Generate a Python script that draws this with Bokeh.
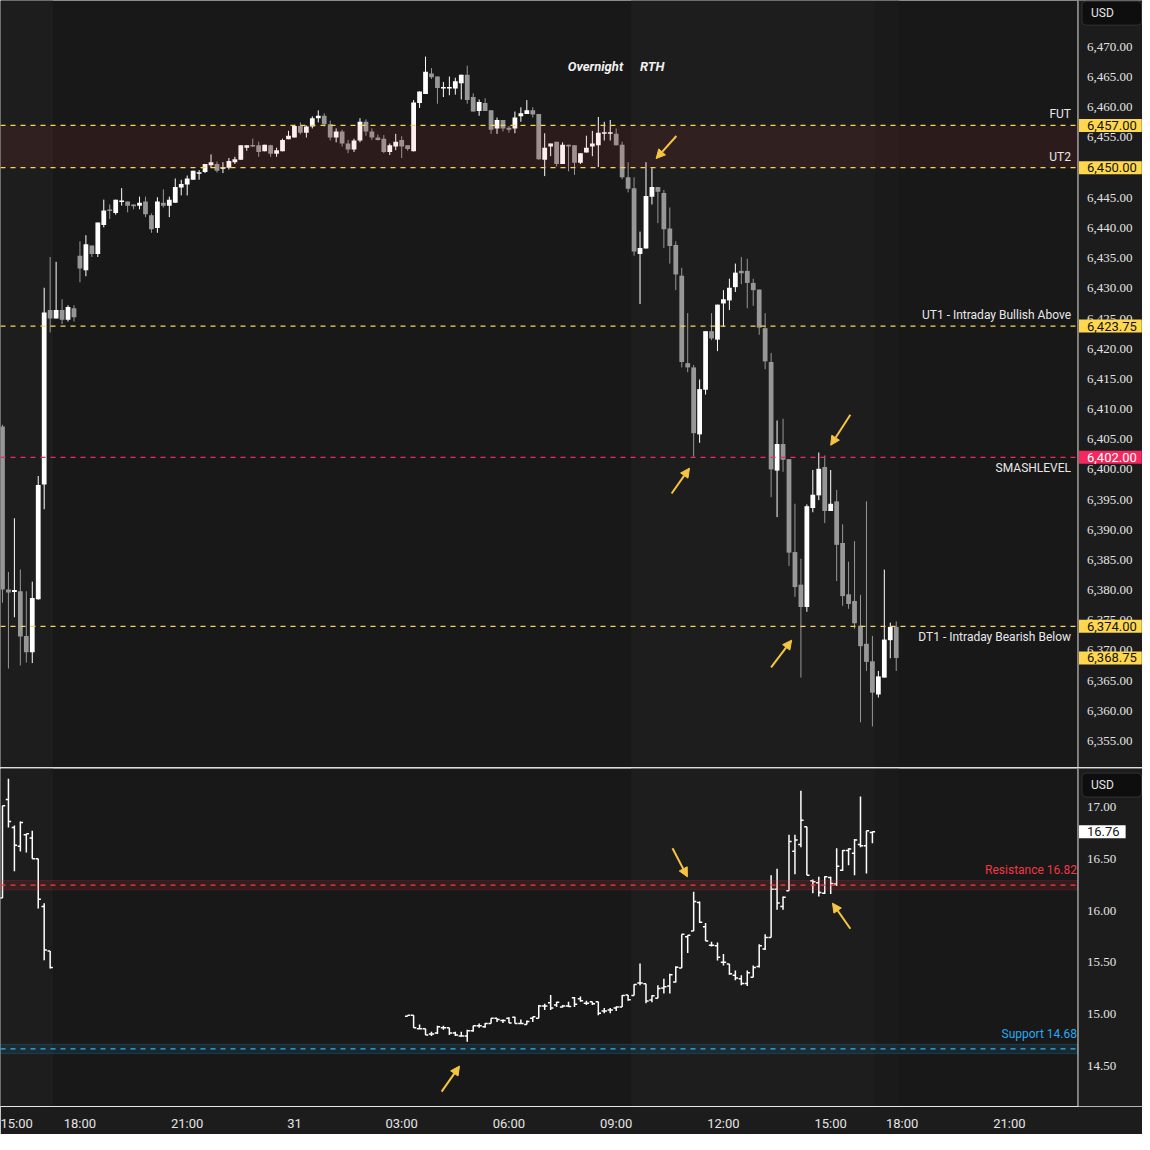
from bokeh.plotting import figure
from bokeh.models import (ColumnDataSource, Range1d, BoxAnnotation, Span, Label, LabelSet, Arrow,
                          NormalHead, FixedTicker, Div)
from bokeh.layouts import column
from bokeh.embed import file_html
from bokeh.resources import INLINE

FONT = "Roboto"

# ---------------- data: ES 10-minute candles (bar index 0 = 15:00 on day 1) ----------------
es_index = list(range(-1, 150))
es_open = [6407.1,
    6380.1, 6379.7, 6379.8, 6372.4, 6369.7, 6378.5, 6397.5, 6426.4, 6425.0, 6426.4,
    6424.8, 6426.7, 6435.4, 6433.0, 6437.1, 6435.7, 6440.5, 6443.0, 6442.5, 6444.3,
    6444.4, 6443.9, 6443.7, 6444.4, 6442.1, 6440.0, 6444.2, 6443.7, 6444.2, 6446.7,
    6447.2, 6448.0, 6449.0, 6449.3, 6450.4, 6450.6, 6449.8, 6450.0, 6450.9, 6451.3,
    6453.3, 6453.7, 6453.7, 6452.7, 6453.7, 6452.3, 6452.7, 6454.7, 6455.0, 6456.9,
    6455.8, 6456.8, 6458.2, 6458.6, 6457.2, 6455.0, 6456.0, 6454.0, 6453.0, 6454.5,
    6457.6, 6456.0, 6455.0, 6454.8, 6452.6, 6453.5, 6454.6, 6453.7, 6452.7, 6460.7,
    6462.2, 6465.6, 6465.1, 6463.1, 6463.1, 6463.1, 6464.0, 6465.4, 6461.7, 6459.4,
    6460.7, 6459.5, 6456.5, 6457.9, 6456.6, 6456.5, 6458.5, 6458.9, 6459.5, 6458.9,
    6451.3, 6453.5, 6454.3, 6450.6, 6453.8, 6453.7, 6450.8, 6452.5, 6453.5, 6453.7,
    6455.6, 6455.6, 6455.6, 6453.8, 6448.4, 6446.6, 6435.7, 6436.6, 6445.2, 6446.8,
    6445.8, 6439.9, 6437.2, 6432.1, 6417.6, 6416.9, 6405.8, 6413.2, 6422.9, 6421.5,
    6427.5, 6428.0, 6430.2, 6432.9, 6432.9, 6430.9, 6429.8, 6423.4, 6417.8, 6399.8,
    6404.2, 6401.7, 6386.3, 6380.9, 6377.2, 6393.6, 6395.7, 6400.4, 6393.1, 6394.7,
    6387.8, 6379.3, 6378.2, 6374.1, 6371.1, 6368.2, 6362.7, 6365.5, 6371.7, 6373.9]
es_high = [6407.4,
    6383.0, 6391.9, 6383.4, 6379.8, 6381.4, 6398.9, 6430.1, 6435.2, 6434.4, 6428.2,
    6427.2, 6427.2, 6437.8, 6438.8, 6437.1, 6440.9, 6444.7, 6443.9, 6444.7, 6446.6,
    6444.4, 6443.9, 6445.2, 6445.2, 6442.4, 6445.1, 6446.4, 6445.2, 6448.2, 6448.0,
    6448.7, 6449.5, 6449.6, 6450.6, 6452.2, 6451.0, 6450.9, 6451.6, 6451.8, 6453.7,
    6453.7, 6454.8, 6454.3, 6453.8, 6453.8, 6453.3, 6454.8, 6456.1, 6457.1, 6457.5,
    6457.0, 6458.5, 6459.5, 6459.0, 6457.8, 6456.5, 6456.3, 6454.6, 6454.8, 6458.2,
    6458.0, 6456.5, 6455.5, 6455.4, 6454.0, 6455.6, 6455.2, 6453.7, 6461.2, 6462.6,
    6468.4, 6466.5, 6465.1, 6464.2, 6465.1, 6464.9, 6465.4, 6466.9, 6462.3, 6461.3,
    6461.5, 6459.5, 6458.3, 6457.9, 6456.9, 6459.3, 6460.0, 6461.2, 6460.0, 6458.9,
    6455.7, 6454.0, 6454.3, 6454.2, 6453.8, 6453.7, 6452.4, 6455.3, 6456.1, 6458.4,
    6457.6, 6457.9, 6456.5, 6454.3, 6450.9, 6448.4, 6439.4, 6450.9, 6449.9, 6446.8,
    6446.3, 6443.4, 6437.8, 6433.4, 6425.9, 6417.3, 6414.9, 6422.9, 6425.9, 6427.3,
    6429.7, 6431.6, 6434.1, 6435.2, 6434.9, 6431.6, 6429.8, 6425.9, 6419.3, 6408.1,
    6408.4, 6401.7, 6394.3, 6385.2, 6394.2, 6399.9, 6402.8, 6402.3, 6399.9, 6396.6,
    6390.9, 6384.7, 6388.1, 6379.2, 6394.7, 6372.4, 6366.6, 6383.4, 6374.6, 6374.8]
es_low = [6377.9,
    6367.0, 6375.5, 6367.5, 6368.0, 6367.9, 6378.4, 6393.4, 6422.7, 6425.0, 6424.1,
    6424.5, 6424.5, 6431.0, 6432.0, 6435.2, 6435.2, 6440.1, 6441.5, 6442.2, 6443.7,
    6442.6, 6443.1, 6443.1, 6441.8, 6439.2, 6439.2, 6443.4, 6441.8, 6444.2, 6445.4,
    6445.4, 6448.0, 6448.0, 6449.1, 6450.0, 6449.2, 6449.1, 6449.7, 6450.6, 6451.3,
    6452.8, 6453.4, 6451.8, 6452.7, 6451.8, 6451.8, 6452.7, 6454.7, 6455.0, 6455.5,
    6455.0, 6456.5, 6457.5, 6456.8, 6454.5, 6454.2, 6453.5, 6452.4, 6452.6, 6454.2,
    6455.3, 6454.6, 6454.5, 6452.4, 6452.1, 6452.9, 6451.6, 6452.8, 6452.7, 6459.9,
    6462.2, 6464.7, 6460.6, 6461.7, 6462.0, 6462.1, 6461.3, 6460.6, 6459.3, 6458.6,
    6459.4, 6455.6, 6455.6, 6456.0, 6455.8, 6455.7, 6457.6, 6458.9, 6458.3, 6451.3,
    6448.6, 6451.9, 6450.2, 6450.6, 6449.4, 6448.8, 6450.6, 6452.5, 6451.9, 6450.1,
    6454.5, 6454.5, 6453.7, 6448.1, 6445.9, 6435.4, 6427.4, 6436.6, 6443.9, 6440.8,
    6436.7, 6434.1, 6429.7, 6416.9, 6416.1, 6402.1, 6404.4, 6412.4, 6421.4, 6419.6,
    6423.6, 6426.4, 6429.4, 6430.7, 6426.7, 6427.1, 6422.3, 6416.6, 6395.4, 6392.1,
    6399.6, 6384.0, 6378.9, 6365.5, 6376.4, 6392.9, 6394.9, 6391.1, 6393.1, 6381.5,
    6377.4, 6376.9, 6373.6, 6358.1, 6366.6, 6357.4, 6362.2, 6365.5, 6368.7, 6366.6]
es_close = [6380.1,
    6379.6, 6380.0, 6372.3, 6369.7, 6378.7, 6397.4, 6426.0, 6425.0, 6426.4, 6424.8,
    6426.9, 6425.2, 6433.3, 6437.3, 6435.7, 6440.9, 6442.9, 6442.8, 6444.7, 6444.5,
    6443.7, 6443.6, 6444.2, 6442.3, 6439.8, 6444.4, 6443.7, 6444.7, 6446.8, 6447.3,
    6448.2, 6449.5, 6449.2, 6450.6, 6450.9, 6449.5, 6450.0, 6451.1, 6451.4, 6453.7,
    6453.7, 6453.5, 6452.6, 6453.8, 6452.3, 6452.9, 6454.6, 6455.3, 6456.9, 6455.8,
    6456.8, 6458.2, 6458.6, 6457.2, 6455.0, 6456.0, 6454.0, 6453.0, 6454.5, 6457.6,
    6456.0, 6455.0, 6454.6, 6452.6, 6453.7, 6454.3, 6453.5, 6453.1, 6460.8, 6462.6,
    6465.9, 6465.0, 6463.2, 6463.3, 6463.3, 6464.3, 6465.4, 6461.2, 6459.3, 6460.9,
    6459.4, 6456.3, 6457.9, 6456.5, 6456.3, 6458.3, 6459.0, 6459.5, 6458.8, 6451.4,
    6453.3, 6454.0, 6450.6, 6453.8, 6453.5, 6450.8, 6452.4, 6453.3, 6454.0, 6455.8,
    6455.8, 6455.8, 6453.7, 6448.4, 6446.5, 6436.1, 6436.7, 6445.3, 6446.8, 6446.0,
    6439.8, 6437.0, 6432.3, 6417.8, 6416.9, 6406.0, 6413.3, 6422.9, 6421.7, 6427.3,
    6428.2, 6430.1, 6432.6, 6432.5, 6430.9, 6429.7, 6423.5, 6417.9, 6400.0, 6404.2,
    6401.6, 6386.2, 6380.5, 6377.2, 6393.9, 6395.8, 6400.1, 6393.1, 6394.3, 6387.5,
    6379.0, 6377.7, 6374.5, 6370.7, 6368.1, 6363.0, 6365.7, 6371.8, 6373.9, 6368.75]

# ---------------- data: VIX 10-minute bars ----------------
vix_index = list(range(-1, 8)) + list(range(67, 146))
vix_open = [16.12, 17.07, 16.80, 16.62, 16.73, 16.70, 16.50, 16.04, 15.61,
    14.98, 14.99, 14.86, 14.86, 14.81, 14.82, 14.87, 14.87, 14.82, 14.79,
    14.79, 14.84, 14.89, 14.88, 14.91, 14.96, 14.94, 14.96, 14.97, 14.91,
    14.90, 14.96, 14.96, 15.08, 15.11, 15.09, 15.07, 15.08, 15.16, 15.15,
    15.105, 15.12, 15.12, 15.03, 15.04, 15.06, 15.07, 15.185, 15.18, 15.30,
    15.295, 15.137, 15.153, 15.254, 15.273, 15.31, 15.447, 15.748, 15.802, 16.078,
    15.843, 15.666, 15.66, 15.501, 15.485, 15.375, 15.343, 15.296, 15.356, 15.46,
    15.628, 15.739, 16.205, 16.04, 16.192, 16.572, 16.636, 16.807, 16.287, 16.268,
    16.167, 16.319, 16.255, 16.388, 16.579, 16.553, 16.636, 16.626, 16.753]
vix_high = [17.01, 17.27, 16.82, 16.86, 16.74, 16.77, 16.50, 16.07, 15.61,
    14.99, 14.99, 14.90, 14.86, 14.83, 14.89, 14.89, 14.87, 14.83, 14.83,
    14.85, 14.89, 14.91, 14.915, 14.96, 14.96, 14.95, 14.97, 14.975, 14.95,
    14.94, 14.975, 15.09, 15.10, 15.185, 15.12, 15.09, 15.12, 15.165, 15.17,
    15.13, 15.12, 15.12, 15.06, 15.06, 15.075, 15.185, 15.185, 15.29, 15.49,
    15.295, 15.184, 15.28, 15.343, 15.39, 15.463, 15.771, 15.761, 16.182, 16.087,
    15.881, 15.698, 15.691, 15.58, 15.485, 15.422, 15.375, 15.422, 15.47, 15.676,
    15.771, 16.341, 16.404, 16.135, 16.731, 16.731, 17.155, 16.807, 16.30, 16.325,
    16.33, 16.325, 16.601, 16.585, 16.601, 16.69, 17.101, 16.769, 16.762]
vix_low = [16.12, 16.80, 16.38, 16.57, 16.56, 16.50, 16.02, 15.52, 15.44,
    14.98, 14.87, 14.86, 14.80, 14.79, 14.81, 14.85, 14.80, 14.79, 14.785,
    14.735, 14.83, 14.87, 14.87, 14.91, 14.925, 14.915, 14.915, 14.91, 14.91,
    14.90, 14.925, 14.96, 15.04, 15.04, 15.07, 15.065, 15.07, 15.07, 15.12,
    15.09, 15.09, 14.99, 15.01, 15.01, 15.03, 15.07, 15.13, 15.18, 15.28,
    15.105, 15.115, 15.153, 15.20, 15.20, 15.305, 15.447, 15.59, 15.802, 15.881,
    15.707, 15.653, 15.517, 15.47, 15.381, 15.327, 15.28, 15.273, 15.356, 15.45,
    15.62, 15.739, 16.008, 16.008, 16.192, 16.35, 16.61, 16.341, 16.167, 16.135,
    16.16, 16.16, 16.236, 16.382, 16.436, 16.341, 16.61, 16.357, 16.648]
vix_close = [17.01, 16.86, 16.63, 16.85, 16.74, 16.50, 16.11, 15.62, 15.45,
    14.99, 14.87, 14.86, 14.80, 14.81, 14.88, 14.87, 14.82, 14.80, 14.79,
    14.84, 14.89, 14.89, 14.91, 14.96, 14.95, 14.94, 14.915, 14.91, 14.91,
    14.93, 14.975, 15.08, 15.08, 15.06, 15.115, 15.08, 15.075, 15.095, 15.13,
    15.105, 15.10, 15.01, 15.03, 15.04, 15.07, 15.18, 15.14, 15.286, 15.30,
    15.127, 15.178, 15.248, 15.264, 15.381, 15.454, 15.771, 15.761, 16.087, 15.888,
    15.707, 15.666, 15.549, 15.501, 15.39, 15.349, 15.296, 15.40, 15.451, 15.66,
    15.739, 16.205, 16.072, 16.129, 16.667, 16.68, 16.87, 16.341, 16.278, 16.173,
    16.325, 16.262, 16.427, 16.579, 16.594, 16.68, 16.626, 16.769, 16.76]

# ---------------- levels, zones, axis ticks ----------------
level_prices = [6457.0, 6450.0, 6423.75, 6402.0, 6374.0]
level_names = ["FUT", "UT2", "UT1 - Intraday Bullish Above", "SMASHLEVEL", "DT1 - Intraday Bearish Below"]
level_is_smash = [False, False, False, True, False]
level_text_above = [True, True, True, False, False]
zone_bottom, zone_top = 6450.0, 6457.0

resistance_level, resistance_band = 16.245, (16.20, 16.29)
resistance_text = "Resistance 16.82"
support_level, support_band = 14.665, (14.62, 14.71)
support_text = "Support 14.68"

time_tick_index = [0, 12, 30, 48, 66, 84, 102, 120, 138, 150, 168]
time_tick_labels = ["15:00", "18:00", "21:00", "31", "03:00", "06:00", "09:00", "12:00", "15:00", "18:00", "21:00"]
es_ticks = [6355 + 5 * k for k in range(24)]
vix_ticks = [14.5, 15.0, 15.5, 16.0, 16.5, 17.0]
currency = "USD"

# sessions (bar-index boundaries)
rth_prev_end = 7.5
rth_start, rth_end, session_close = 104.5, 145.5, 149.5

# annotation arrows: (x_start, y_start, x_end, y_end)
es_arrows = [(112.1, 6455.25, 108.7, 6451.5), (111.3, 6396.0, 114.3, 6400.2),
             (141.3, 6409.05, 138.0, 6404.0), (128.0, 6367.2, 131.45, 6371.7)]
vix_arrows = [(111.45, 16.60, 113.95, 16.325), (141.3, 15.824, 138.3, 16.071),
              (72.7, 14.253, 75.7, 14.50)]

# ---------------- styling ----------------
SX = 1142 / 1150.0
SY = 1134 / 1150.0
BG = "#181818"
RTH_BG = "#1d1d1d"
POST_BG = "#1a1a1a"
AXIS_BG = "#1c1c1c"
TXT = "#e4e4e4"
YEL = "#f5d55a"
YEL_BOX = "#ffd84f"
RED_LVL = "#f2285f"
UP = "#ffffff"
DN = "#979797"
ARROW = "#f4c542"
AX_FS = "13px"

W = 1142
TOP_H = 767
BOT_H = 338
XAX_H = 28

AXIS_X = 179.5                     # price-scale position (bar index units)
x_range = Range1d(-1.333, 190.33)


def base_style(p):
    p.background_fill_color = BG
    p.border_fill_color = AXIS_BG
    p.outline_line_color = None
    p.grid.visible = False
    for a, b, c in [(None, rth_prev_end, RTH_BG), (rth_start, rth_end, RTH_BG), (rth_end, session_close, POST_BG)]:
        p.add_layout(BoxAnnotation(left=a, right=b, fill_color=c, fill_alpha=1.0,
                                   line_color=None, level="underlay"))


def price_scale(p, ticks, fmt):
    """Right-hand price scale: background, axis line and tick labels."""
    p.add_layout(BoxAnnotation(left=AXIS_X, fill_color=AXIS_BG, fill_alpha=1.0, line_color=None))
    p.add_layout(Span(location=AXIS_X, dimension="height", line_color="#e6e6e6", line_width=1))
    src = ColumnDataSource(dict(x=[AXIS_X] * len(ticks), y=ticks, t=[fmt.format(v) for v in ticks]))
    p.add_layout(LabelSet(x="x", y="y", text="t", source=src, x_offset=9 * SX, text_align="left",
                          text_baseline="middle", text_font=FONT, text_font_size=AX_FS, text_color=TXT))


def price_box(p, y, text, fill, color, pad_l=8, pad_r=5, pad_v=2):
    p.add_layout(Label(x=AXIS_X, y=y, x_offset=1, text=text, text_align="left", text_baseline="middle",
                       text_font=FONT, text_font_size=AX_FS, text_color=color,
                       background_fill_color=fill, background_fill_alpha=1.0,
                       padding=dict(left=pad_l, right=pad_r, top=pad_v, bottom=pad_v)))


def currency_box(p, y):
    p.add_layout(Label(x=AXIS_X, y=y, x_offset=4, text=currency, text_align="left", text_baseline="middle",
                       text_font=FONT, text_font_size="12px", text_color=TXT,
                       background_fill_color="#0e0e0e", border_line_color="#333333", border_radius=4,
                       padding=dict(left=9, right=28, top=5, bottom=5)))


def arrows(p, specs):
    for xs, ys, xe, ye in specs:
        p.add_layout(Arrow(x_start=xs, y_start=ys, x_end=xe, y_end=ye, line_color=ARROW, line_width=2,
                           end=NormalHead(size=9, fill_color=ARROW, line_color=ARROW)))


# ======================= top panel: ES candles =======================
top = figure(x_range=x_range, y_range=Range1d(6350.6, 6477.7), frame_width=W, frame_height=TOP_H,
             min_border_left=0, min_border_right=0, min_border_top=0, min_border_bottom=0,
             x_axis_location=None, y_axis_location=None, toolbar_location=None, tools="",
             output_backend="svg")
base_style(top)

colors = [UP if c >= o else DN for o, c in zip(es_open, es_close)]
body_top = [max(o, c) for o, c in zip(es_open, es_close)]
body_bot = [min(o, c) for o, c in zip(es_open, es_close)]
body_top = [t if t - b >= 0.25 else b + 0.25 for t, b in zip(body_top, body_bot)]
src = ColumnDataSource(dict(x=es_index, o=es_open, h=es_high, l=es_low, c=es_close,
                            t=body_top, b=body_bot, col=colors))
top.segment(x0="x", y0="l", x1="x", y1="h", line_color="col", line_width=1, source=src)
top.vbar(x="x", width=0.8, top="t", bottom="b", fill_color="col", line_color=None, source=src)

top.add_layout(BoxAnnotation(bottom=zone_bottom, top=zone_top, right=AXIS_X, fill_color="#ff4848",
                             fill_alpha=0.09, line_color=None))
for price, name, smash, above in zip(level_prices, level_names, level_is_smash, level_text_above):
    col = RED_LVL if smash else YEL
    top.add_layout(Span(location=price, dimension="width", line_color=col, line_width=1.2, line_dash="5 5"))
    top.add_layout(Label(x=AXIS_X, y=price, x_offset=-7 * SX, y_offset=(4 if above else -4), text=name,
                         text_align="right", text_baseline=("bottom" if above else "top"),
                         text_font=FONT, text_font_size="12px", text_color="#e8e8e8"))

top.add_layout(Label(x=rth_start, y=6466.7, x_offset=-8 * SX, text="Overnight", text_align="right",
                     text_baseline="middle", text_font=FONT, text_font_size="13px",
                     text_font_style="bold italic", text_color="#f0f0f0"))
top.add_layout(Label(x=rth_start, y=6466.7, x_offset=9 * SX, text="RTH", text_align="left",
                     text_baseline="middle", text_font=FONT, text_font_size="13px",
                     text_font_style="bold italic", text_color="#f0f0f0"))
arrows(top, es_arrows)

price_scale(top, es_ticks, "{:,.2f}")
for price, smash in zip(level_prices, level_is_smash):
    if smash:
        price_box(top, price, f"{price:,.2f}", RED_LVL, "#ffffff")
    else:
        price_box(top, price, f"{price:,.2f}", YEL_BOX, "#131313")
price_box(top, es_close[-1], f"{es_close[-1]:,.2f}", YEL_BOX, "#131313")
currency_box(top, 6475.6)

# ======================= separator =======================
sep = Div(width=W, height=1, margin=(0, 0, 0, 0), styles={"background-color": "#dcdcdc"})

# ======================= bottom panel: VIX OHLC bars =======================
bot = figure(x_range=x_range, y_range=Range1d(14.11, 17.37), frame_width=W, frame_height=BOT_H,
             min_border_left=0, min_border_right=0, min_border_top=0, min_border_bottom=XAX_H,
             y_axis_location=None, toolbar_location=None, tools="", output_backend="svg")
base_style(bot)
xa = bot.xaxis[0]
xa.ticker = FixedTicker(ticks=time_tick_index)
xa.major_label_overrides = {k: v for k, v in zip(time_tick_index, time_tick_labels)}
xa.axis_line_color = "#e6e6e6"
xa.major_tick_line_color = None
xa.minor_tick_line_color = None
xa.major_label_text_color = TXT
xa.major_label_text_font = FONT
xa.major_label_text_font_size = AX_FS
xa.major_label_standoff = 3

bot.add_layout(BoxAnnotation(bottom=resistance_band[0], top=resistance_band[1], right=AXIS_X,
                             fill_color="#f23645", fill_alpha=0.12, line_color="#f23645",
                             line_alpha=0.18, line_width=1))
bot.add_layout(BoxAnnotation(bottom=support_band[0], top=support_band[1], right=AXIS_X,
                             fill_color="#29b6f6", fill_alpha=0.11, line_color="#29b6f6",
                             line_alpha=0.18, line_width=1))
bot.add_layout(Span(location=resistance_level, dimension="width", line_color="#ff3b3b",
                    line_width=1.2, line_dash="5 5"))
bot.add_layout(Span(location=support_level, dimension="width", line_color="#2ab4f5",
                    line_width=1.2, line_dash="5 5"))

vsrc = ColumnDataSource(dict(x=vix_index, o=vix_open, h=vix_high, l=vix_low, c=vix_close,
                             xl=[v - 0.45 for v in vix_index], xr=[v + 0.45 for v in vix_index]))
bot.segment(x0="x", y0="l", x1="x", y1="h", line_color="#ffffff", line_width=1.5, source=vsrc)
bot.segment(x0="xl", y0="o", x1="x", y1="o", line_color="#ffffff", line_width=1.5, source=vsrc)
bot.segment(x0="x", y0="c", x1="xr", y1="c", line_color="#ffffff", line_width=1.5, source=vsrc)

bot.add_layout(Label(x=AXIS_X, y=resistance_band[1], x_offset=-1, y_offset=3, text=resistance_text,
                     text_align="right", text_baseline="bottom", text_font=FONT, text_font_size="12px",
                     text_color="#f23645"))
bot.add_layout(Label(x=AXIS_X, y=support_band[1], x_offset=-1, y_offset=3, text=support_text,
                     text_align="right", text_baseline="bottom", text_font=FONT, text_font_size="12px",
                     text_color="#29a9f0"))
arrows(bot, vix_arrows)

price_scale(bot, vix_ticks, "{:.2f}")
price_box(bot, vix_close[-1], f"{vix_close[-1]:.2f}", "#ffffff", "#131313", pad_l=8, pad_r=6, pad_v=2)
currency_box(bot, 17.21)

layout = column(top, sep, bot, spacing=0)
open("out.html", "w").write(file_html(layout, INLINE))
